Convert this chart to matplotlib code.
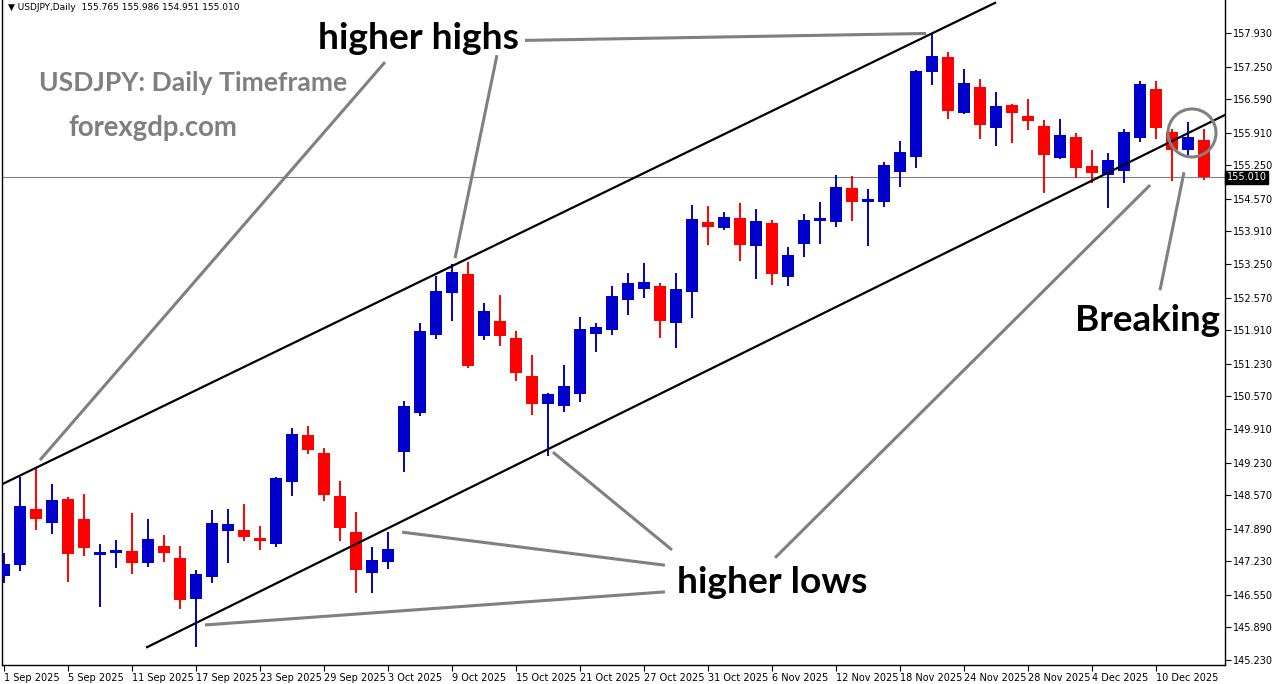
import matplotlib
matplotlib.use("Agg")
import matplotlib.pyplot as plt
from matplotlib.patches import Ellipse

# USDJPY daily candles, 1 Sep 2025 .. 15 Dec 2025
opens = [146.94, 147.16, 148.29, 148.01, 148.49, 148.09, 147.36, 147.40, 147.44, 147.20,
         147.54, 147.30, 146.47, 146.92, 147.85, 147.86, 147.69, 147.57, 148.84, 149.79,
         149.42, 148.55, 147.82, 147.00, 147.22, 149.45, 150.24, 151.82, 152.67, 153.05,
         151.80, 152.10, 151.75, 150.98, 150.42, 150.38, 150.62, 151.84, 151.92, 152.53,
         152.75, 152.81, 152.06, 152.69, 154.10, 153.97, 154.18, 153.62, 154.08, 152.99,
         153.66, 154.13, 154.11, 154.79, 154.51, 154.51, 155.12, 155.42, 157.13, 157.44,
         156.30, 156.84, 156.01, 156.47, 156.25, 156.05, 155.40, 155.82, 155.24, 155.06,
         155.14, 155.80, 156.80, 155.93, 155.55, 155.765]
highs = [147.39, 148.93, 149.13, 148.80, 148.53, 148.59, 147.57, 147.66, 148.21, 148.09,
         147.76, 147.54, 147.05, 148.27, 148.29, 148.39, 147.94, 148.93, 149.92, 149.97,
         149.52, 148.86, 148.23, 147.52, 147.82, 150.48, 152.06, 153.01, 153.25, 153.30,
         152.46, 152.62, 151.89, 151.41, 150.64, 151.21, 152.18, 152.06, 152.81, 153.07,
         153.27, 152.87, 153.07, 154.45, 154.43, 154.30, 154.49, 154.37, 154.14, 153.60,
         154.26, 154.51, 155.05, 155.03, 154.77, 155.32, 155.74, 157.18, 157.90, 157.55,
         157.20, 157.00, 156.74, 156.49, 156.59, 156.17, 156.19, 155.90, 155.55, 155.50,
         155.99, 156.96, 156.96, 155.99, 156.13, 155.986]
lows = [146.78, 147.04, 147.86, 147.78, 146.82, 147.34, 146.31, 147.10, 146.98, 147.11,
        147.22, 146.27, 145.49, 146.78, 147.20, 147.65, 147.46, 147.51, 148.56, 149.41,
        148.46, 147.65, 146.59, 146.59, 147.08, 149.04, 150.18, 151.74, 152.10, 151.15,
        151.72, 151.60, 150.89, 150.20, 149.37, 150.26, 150.46, 151.47, 151.82, 152.22,
        152.57, 151.76, 151.54, 152.16, 153.64, 153.93, 153.32, 152.95, 152.83, 152.81,
        153.40, 153.66, 154.01, 154.13, 153.62, 154.41, 154.82, 155.20, 156.88, 156.19,
        156.28, 155.79, 155.65, 155.71, 155.97, 154.69, 155.38, 155.00, 154.89, 154.39,
        154.90, 155.73, 155.78, 154.94, 155.46, 154.951]
closes = [147.17, 148.35, 148.09, 148.47, 147.38, 147.50, 147.42, 147.46, 147.20, 147.68,
          147.40, 146.45, 146.97, 148.00, 147.98, 147.73, 147.65, 148.92, 149.81, 149.49,
          148.58, 147.91, 147.06, 147.26, 147.48, 150.37, 151.89, 152.70, 153.09, 151.19,
          152.30, 151.80, 151.05, 150.42, 150.62, 150.77, 151.93, 151.97, 152.60, 152.87,
          152.89, 152.10, 152.74, 154.16, 154.01, 154.20, 153.64, 154.12, 153.05, 153.43,
          154.14, 154.16, 154.81, 154.51, 154.55, 155.26, 155.52, 157.16, 157.46, 156.34,
          156.92, 156.07, 156.45, 156.30, 156.15, 155.46, 155.86, 155.20, 155.10, 155.36,
          155.92, 156.90, 156.01, 155.56, 155.82, 155.010]

date_tick_idx = [0, 4, 8, 12, 16, 20, 24, 28, 32, 36, 40, 44, 48, 52, 56, 60, 64, 68, 72]
date_labels = ["1 Sep 2025", "5 Sep 2025", "11 Sep 2025", "17 Sep 2025", "23 Sep 2025",
               "29 Sep 2025", "3 Oct 2025", "9 Oct 2025", "15 Oct 2025", "21 Oct 2025",
               "27 Oct 2025", "31 Oct 2025", "6 Nov 2025", "12 Nov 2025", "18 Nov 2025",
               "24 Nov 2025", "28 Nov 2025", "4 Dec 2025", "10 Dec 2025"]
price_ticks = [157.930, 157.250, 156.590, 155.910, 155.250, 154.570, 153.910, 153.250,
               152.570, 151.910, 151.230, 150.570, 149.910, 149.230, 148.570, 147.890,
               147.230, 146.550, 145.890, 145.230]
last_price = 155.010

# channel lines (bar index, price)
upper_channel = [(-0.25, 148.77), (61.94, 158.54)]
lower_channel = [(8.94, 145.49), (76.31, 156.27)]

# grey pointer lines (bar index, price)
pointers = [
    [(32.56, 157.78), (57.63, 157.92)],
    [(30.81, 157.48), (28.19, 153.37)],
    [(23.81, 157.34), (2.25, 149.28)],
    [(41.31, 147.15), (24.88, 147.82)],
    [(41.75, 147.46), (34.31, 149.44)],
    [(41.31, 146.61), (12.56, 145.94)],
    [(48.19, 147.30), (71.63, 154.85)],
    [(72.25, 152.72), (73.75, 155.11)],
]

BLUE = "#0000CC"
RED = "#FF0000"
GREY = "#808080"

fig = plt.figure(figsize=(12.76, 6.84), dpi=100)
ax = fig.add_axes([2 / 1276, 19 / 684, 1223 / 1276, 665 / 684])

for i in range(len(opens)):
    o, h, l, c = opens[i], highs[i], lows[i], closes[i]
    col = BLUE if c >= o else RED
    ax.vlines(i, l, h, color=col, lw=1.4, zorder=2)
    body = max(abs(c - o), 0.05)
    ax.bar(i, body, bottom=min(o, c), width=0.69, color=col, edgecolor=col,
           linewidth=0, zorder=3)

ax.axhline(last_price, color=GREY, lw=0.8, zorder=1)

for line in (upper_channel, lower_channel):
    xs, ys = zip(*line)
    ax.plot(xs, ys, color="black", lw=1.6, zorder=4)

for line in pointers:
    xs, ys = zip(*line)
    ax.plot(xs, ys, color=GREY, lw=2.2, solid_capstyle="butt", zorder=5)

ax.add_patch(Ellipse((74.25, 155.905), 3.0, 0.972, fill=False, edgecolor=GREY,
                     lw=2.2, zorder=5))

big = dict(family="Lato", weight="bold", ha="center", va="center")
ax.text(25.875, 157.81, "higher highs", fontsize=26.7, color="black", **big)
ax.text(48.0, 146.81, "higher lows", fontsize=26.7, color="black", **big)
ax.text(71.5, 152.10, "Breaking", fontsize=26.5, color="black", **big)
ax.text(11.81, 156.92, "USDJPY: Daily Timeframe", fontsize=19.1, color="#7F7F7F", **big)
ax.text(9.31, 156.00, "forexgdp.com", fontsize=19.8, color="#7F7F7F", **big)

ax.text(6 / 1223, 1 - 8 / 665, "\u25bc USDJPY,Daily  155.765 155.986 154.951 155.010",
        transform=ax.transAxes, fontsize=6.5, va="center", ha="left", color="black")

ax.set_xlim(-0.125, 76.3125)
ax.set_ylim(145.129, 158.598)

ax.yaxis.tick_right()
ax.set_yticks(price_ticks)
ax.set_yticklabels([f"{p:.3f}" for p in price_ticks])
ax.set_xticks(date_tick_idx)
ax.set_xticklabels(date_labels, ha="left")
ax.tick_params(axis="y", direction="out", length=4, width=0.8, labelsize=7, pad=2)
ax.tick_params(axis="x", direction="out", length=4, width=0.8, labelsize=7, pad=2)

ax.spines["top"].set_visible(False)
for s in ("left", "right", "bottom"):
    ax.spines[s].set_linewidth(1.0)

ax.text(1.0015, last_price, "155.010", transform=ax.get_yaxis_transform(),
        fontsize=7, color="white", va="center", ha="left",
        bbox=dict(boxstyle="square,pad=0.15", fc="black", ec="black"))

fig.savefig("out.png", dpi=100)
